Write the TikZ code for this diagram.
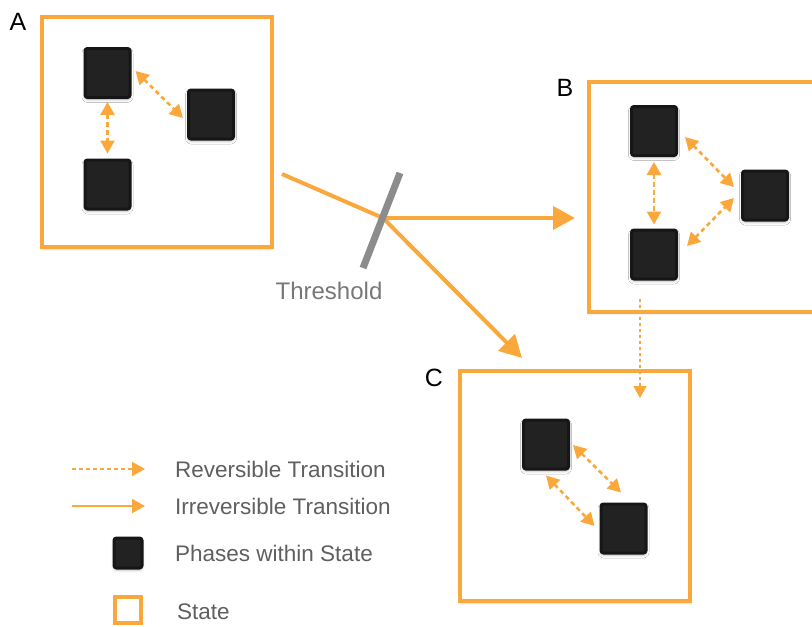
\documentclass[tikz,border=0pt]{standalone}
\usepackage{fontspec}
\setmainfont{Liberation Sans}
\usetikzlibrary{arrows.meta,calc,shadows.blur}
\definecolor{stateorange}{RGB}{250,168,60}
\definecolor{phasefill}{RGB}{34,34,34}
\definecolor{phaseedge}{RGB}{22,22,22}
\definecolor{bargray}{RGB}{140,140,140}
\definecolor{textgray}{RGB}{95,95,95}
\tikzset{
  statebox/.style={draw=stateorange, line width=4pt, fill=white,
    minimum width=230pt, minimum height=230pt, inner sep=0pt,
    blur shadow={shadow xshift=0pt, shadow yshift=-2pt, shadow blur steps=4, shadow opacity=15}},
  phase/.style={draw=phaseedge, line width=3pt, fill=phasefill, rounded corners=2.5pt,
    minimum width=45pt, minimum height=49pt, inner sep=0pt,
    blur shadow={shadow xshift=0pt, shadow yshift=-2pt, shadow blur steps=6, shadow blur radius=3pt, shadow opacity=25}},
  revarrow/.style={draw=stateorange, line width=2.6pt, dash pattern=on 4.5pt off 3.5pt,
    {Triangle[length=13pt,width=14pt]}-{Triangle[length=13pt,width=14pt]}},
  revone/.style={draw=stateorange, line width=2.2pt, dash pattern=on 3.5pt off 2.5pt,
    -{Triangle[length=12pt,width=13pt]}},
  irrarrow/.style={draw=stateorange, line width=4pt, -{Triangle[length=22pt,width=23pt]}},
  irrline/.style={draw=stateorange, line width=4pt},
  letter/.style={font=\fontsize{25}{25}\selectfont, text=black, inner sep=0pt},
  legendtext/.style={font=\fontsize{22.5}{23}\selectfont, text=textgray, anchor=west, inner sep=0pt},
}
\begin{document}
\begin{tikzpicture}[x=1pt,y=-1pt]
\useasboundingbox (0,0) rectangle (812,627);

% states
\node[statebox] (A) at (157,132) {};
\node[statebox] (B) at (704,196.5) {};
\node[statebox] (C) at (575,486) {};
\node[letter] (lA) at (18,22) {A};
\node[letter] (lB) at (565,88) {B};
\node[letter] (lC) at (434,378) {C};

% phases in A
\node[phase] (a1) at (107.5,73) {};
\node[phase] (a2) at (211,114.5) {};
\node[phase] (a3) at (107.5,184.5) {};
% phases in B
\node[phase] (b1) at (654,131) {};
\node[phase] (b2) at (765,195.5) {};
\node[phase] (b3) at (654,254.5) {};
% phases in C
\node[phase] (c1) at (546,444.5) {};
\node[phase] (c2) at (623.5,528.5) {};

% reversible transitions
\draw[revarrow] ($(a1.east)+(4,-2)$) -- ($(a2.west)+(-4,3.5)$);
\draw[revarrow] ($(a1.south)+(0,3)$) -- ($(a3.north)+(0,-5)$);
\draw[revarrow] ($(b1.south)+(0,5)$) -- ($(b3.north)+(0,-4)$);
\draw[revarrow] ($(b1.east)+(7,6)$) -- ($(b2.west)+(-7,-8.5)$);
\draw[revarrow] ($(b3.east)+(9,-8.5)$) -- ($(b2.west)+(-7,2.5)$);
\draw[revarrow] ($(c1.east)+(3,0.5)$) -- ($(c2.north)+(-2.5,-10)$);
\draw[revarrow] ($(c1.south)+(0,5)$) -- ($(c2.west)+(-5,-2.5)$);
\draw[revone] ($(B.south)+(-64,-15)$) -- ($(C.north)+(65,29)$);

% irreversible transitions through the threshold
\coordinate (split) at (383,218);
\draw[irrline] ($(A.east)+(8,42)$) -- (split);
\draw[irrarrow] (split) -- ($(B.west)+(-12,21.5)$);
\draw[irrarrow] (split) -- ($(C.north west)+(64,-11)$);
\coordinate (t1) at (400,173);
\coordinate (t2) at (363,268);
\draw[bargray, line width=7pt] (t1) -- (t2);
\node[font=\fontsize{24}{24}\selectfont, text=bargray!85!black, inner sep=0pt] (thr) at (329,291) {Threshold};

% legend
\coordinate (r1) at (72,469); \coordinate (r2) at (145,469);
\coordinate (i1) at (72,506); \coordinate (i2) at (145,506);
\draw[draw=stateorange, line width=2.2pt, dash pattern=on 4pt off 3pt, -{Triangle[length=13pt,width=14pt]}] (r1) -- (r2);
\draw[draw=stateorange, line width=2.2pt, -{Triangle[length=13pt,width=14pt]}] (i1) -- (i2);
\node[phase, minimum width=28pt, minimum height=30pt] (lp) at (128,553) {};
\node[draw=stateorange, line width=4pt, fill=white, minimum width=26pt, minimum height=26pt, inner sep=0pt] (ls) at (128,610) {};
\node[legendtext] (t-rev) at (175,469) {Reversible Transition};
\node[legendtext] (t-irr) at (175,506) {Irreversible Transition};
\node[legendtext] (t-ph) at (175,553) {Phases within State};
\node[legendtext] (t-st) at (177,612) {State};
\end{tikzpicture}
\end{document}
